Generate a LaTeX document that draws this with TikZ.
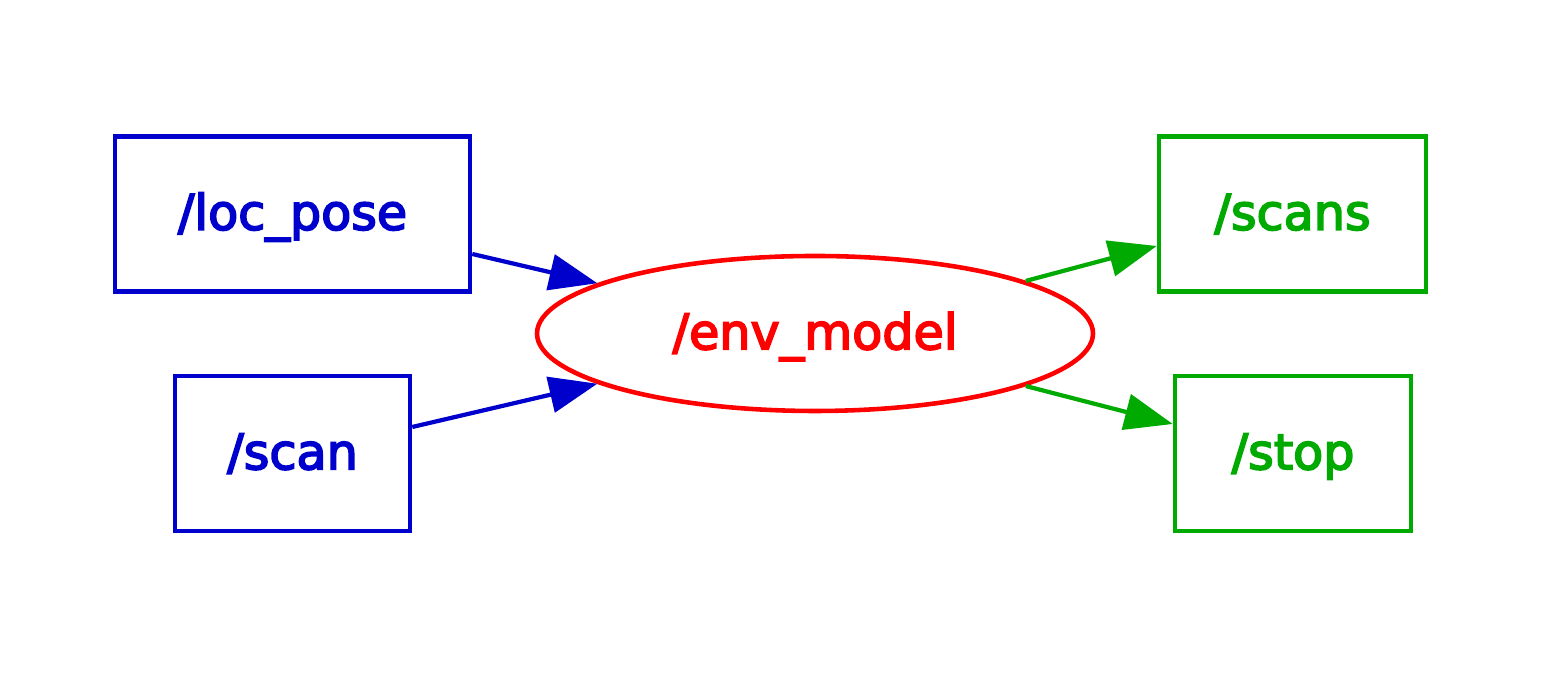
\documentclass[tikz,border=0pt]{standalone}
\usepackage{fontspec}
\setmainfont{DejaVu Sans}
\newfontfamily\graphfont{DejaVu Sans}[BoldFont=DejaVu Sans,BoldFeatures={FakeBold=3.5}]
\usepackage{tikz}
\usetikzlibrary{arrows.meta,positioning,shapes.geometric}
\definecolor{subblue}{RGB}{0,0,204}
\definecolor{nodered}{RGB}{255,0,0}
\definecolor{pubgreen}{RGB}{0,170,0}
\tikzset{
  topic/.style={draw,rectangle,line width=1.3pt,inner sep=0pt,
    minimum height=1.55cm,text height=1.1em,text depth=0.2em,
    font=\graphfont\bfseries\fontsize{14}{16}\selectfont},
  rosnode/.style={draw=nodered,text=nodered,ellipse,line width=1.3pt,inner sep=0pt,
    minimum width=5.56cm,minimum height=1.55cm,text height=1.1em,text depth=0.2em,
    font=\graphfont\bfseries\fontsize{14}{16}\selectfont},
  subedge/.style={line width=1.2pt,subblue,-{Triangle[length=4.8mm,width=3.6mm]}},
  pubedge/.style={line width=1.2pt,pubgreen,-{Triangle[length=4.8mm,width=3.6mm]}}
}
\begin{document}
\begin{tikzpicture}
  \useasboundingbox (0,0) rectangle (15.59,6.85);
  % topics and the node
  \node[topic,subblue,minimum width=3.55cm] (locpose) at (2.925,4.71) {/loc\_pose};
  \node[topic,subblue,minimum width=2.35cm] (scan) at (2.925,2.315) {/scan};
  \node[rosnode] (envmodel) at (8.15,3.515) {/env\_model};
  \node[topic,pubgreen,minimum width=2.67cm] (scans) at (12.925,4.71) {/scans};
  \node[topic,pubgreen,minimum width=2.36cm] (stop) at (12.93,2.315) {/stop};
  % subscriptions
  \draw[subedge] ([yshift=-4mm]locpose.east) -- (envmodel.167);
  \draw[subedge] ([yshift=2.65mm]scan.east) -- (envmodel.193);
  % publications
  \draw[pubedge] (envmodel.14) -- ([yshift=-3.2mm]scans.west);
  \draw[pubedge] (envmodel.-14) -- ([yshift=2.95mm]stop.west);
\end{tikzpicture}
\end{document}
